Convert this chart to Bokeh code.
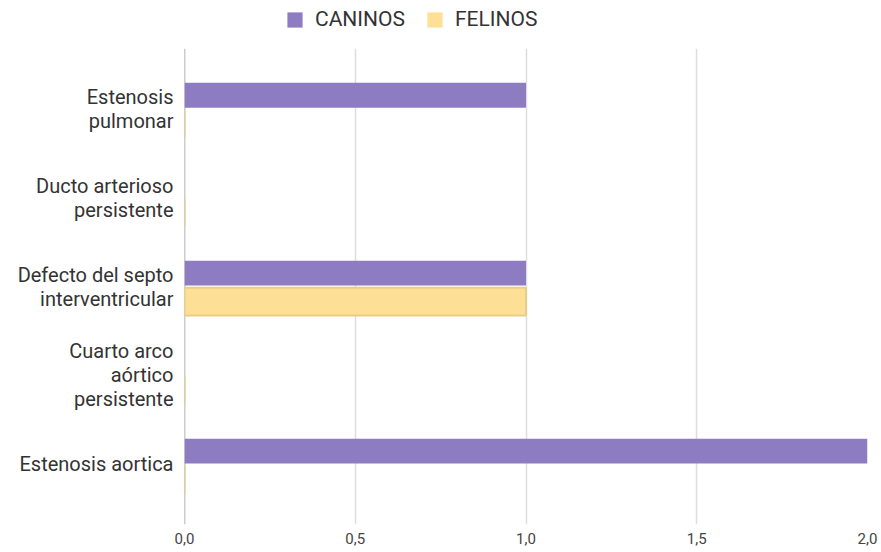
from bokeh.plotting import figure
from bokeh.layouts import column
from bokeh.models import (ColumnDataSource, Range1d, FixedTicker, Legend, LegendItem, Span)
from bokeh.transform import dodge
from bokeh.embed import file_html
from bokeh.resources import INLINE

# ---- data ----
categories = ["Estenosis pulmonar", "Ducto arterioso persistente",
              "Defecto del septo interventricular", "Cuarto arco aórtico persistente",
              "Estenosis aortica"]
category_labels = ["Estenosis\npulmonar", "Ducto arterioso\npersistente",
                   "Defecto del septo\ninterventricular", "Cuarto arco\naórtico\npersistente",
                   "Estenosis aortica"]
caninos = [1, 0, 1, 0, 2]
felinos = [0, 0, 1, 0, 0]
x_ticks = [0, 0.5, 1.0, 1.5, 2.0]
x_tick_labels = ["0,0", "0,5", "1,0", "1,5", "2,0"]
series_names = ["CANINOS", "FELINOS"]

n = len(categories)
ypos = [n - 1 - i for i in range(n)]
src = ColumnDataSource(dict(cat=categories, y=ypos, caninos=caninos, felinos=felinos))

PURPLE = "#8e7cc3"
YELLOW = "#fde095"
YELLOW_EDGE = "#e8cd88"
FONT = "Roboto"


def add_bars(fig):
    a = fig.hbar(y=dodge("y", 0.15), right="caninos", left=0, height=0.28, source=src,
                 fill_color=PURPLE, line_color=None)
    b = fig.hbar(y=dodge("y", -0.17), right="felinos", left=0, height=0.31, source=src,
                 fill_color=YELLOW, line_color=YELLOW_EDGE, line_width=2)
    return a, b


# ---- main chart ----
p = figure(width=881, height=504, output_backend="svg", toolbar_location=None,
           x_range=Range1d(0, 2), y_range=Range1d(-0.675, n - 1 + 0.675),
           min_border_left=184, min_border_right=14, min_border_top=0,
           min_border_bottom=28)
p.outline_line_color = None
p.background_fill_color = "white"
p.border_fill_color = "white"
add_bars(p)

# baseline
p.add_layout(Span(location=0, dimension="height", line_color="#9a9a9a",
                  line_width=1.5, level="underlay"))

# x axis
p.xaxis.ticker = FixedTicker(ticks=x_ticks)
p.xaxis.major_label_overrides = {t: l for t, l in zip(x_ticks, x_tick_labels)}
p.xaxis.axis_line_color = None
p.xaxis.major_tick_line_color = None
p.xaxis.minor_tick_line_color = None
p.xaxis.major_tick_out = 0
p.xaxis.major_label_standoff = 8
p.xaxis.major_label_text_font = FONT
p.xaxis.major_label_text_font_size = "15px"
p.xaxis.major_label_text_color = "#444444"

# y axis
p.yaxis.ticker = FixedTicker(ticks=ypos)
p.yaxis.major_label_overrides = {y: l for y, l in zip(ypos, category_labels)}
p.yaxis.axis_line_color = None
p.yaxis.major_tick_line_color = None
p.yaxis.minor_tick_line_color = None
p.yaxis.major_tick_out = 0
p.yaxis.major_label_standoff = 11
p.yaxis.major_label_text_font = FONT
p.yaxis.major_label_text_font_size = "20px"
p.yaxis.major_label_text_color = "#333333"
p.yaxis.major_label_text_line_height = 1.0

# grids
p.ygrid.grid_line_color = None
p.xgrid.ticker = FixedTicker(ticks=x_ticks[1:])
p.xgrid.grid_line_color = "#dddddd"
p.xgrid.grid_line_width = 1.5

# ---- legend strip (same series, view range kept away from the bars) ----
lg = figure(width=881, height=48, output_backend="svg", toolbar_location=None,
            x_range=Range1d(10, 11), y_range=Range1d(10, 11),
            min_border_left=184, min_border_right=14, min_border_top=0,
            min_border_bottom=0)
lg.outline_line_color = None
lg.axis.visible = False
lg.grid.grid_line_color = None
k1, k2 = add_bars(lg)
k2.glyph.line_color = None
legend = Legend(items=[LegendItem(label=series_names[0], renderers=[k1], index=0),
                       LegendItem(label=series_names[1], renderers=[k2], index=0)],
                orientation="horizontal", location=(101, 17),
                glyph_width=19, glyph_height=19, label_standoff=11, spacing=20,
                padding=0, margin=0, border_line_color=None,
                background_fill_alpha=0,
                label_text_font=FONT, label_text_font_size="21px",
                label_text_color="#333333")
lg.add_layout(legend, "center")

layout = column(lg, p, spacing=0)
open("out.html", "w").write(file_html(layout, INLINE))
